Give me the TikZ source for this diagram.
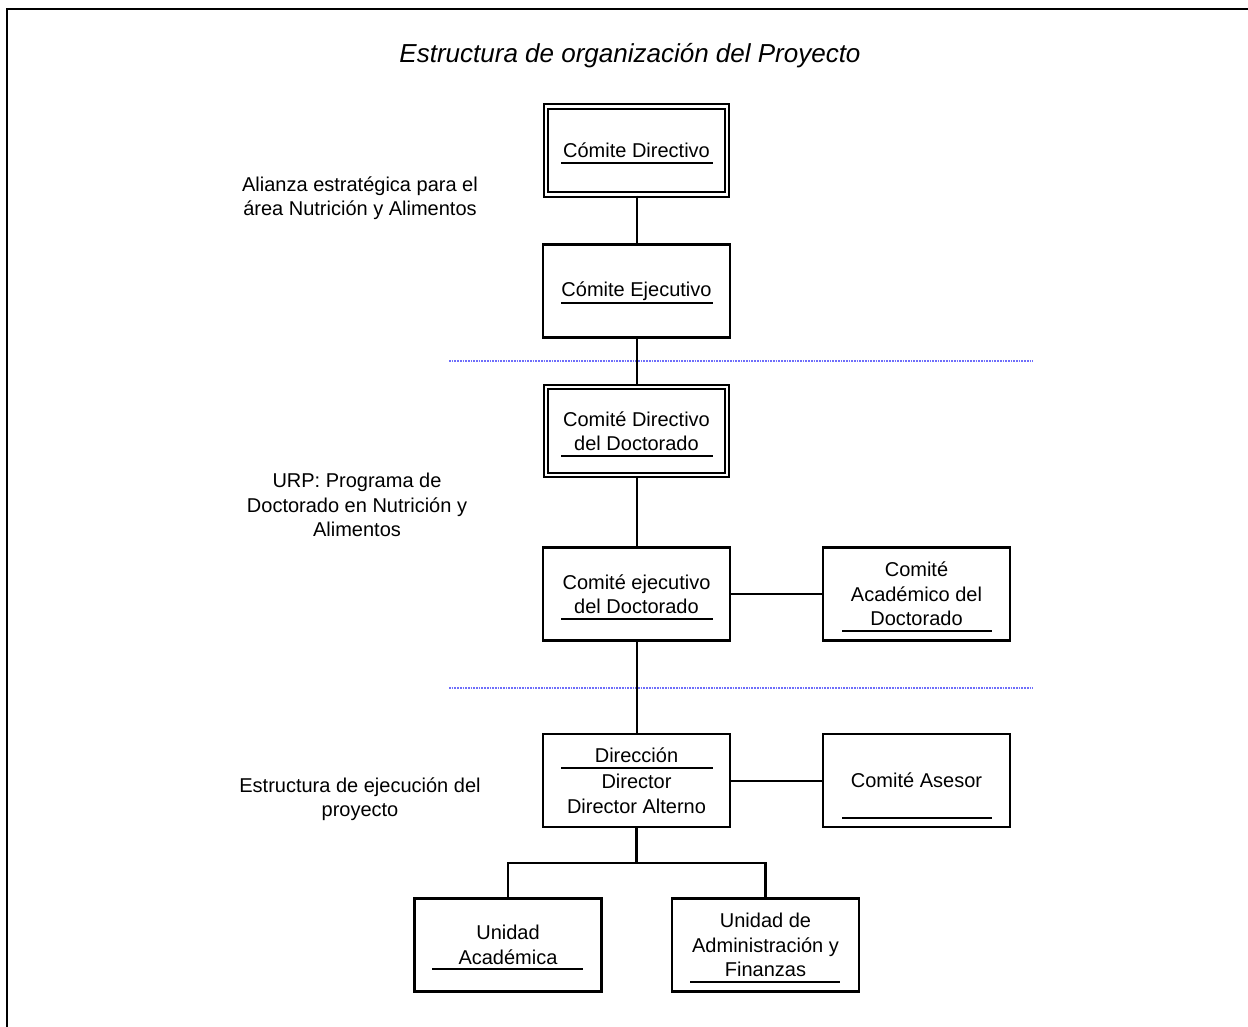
\documentclass[tikz,border=0pt]{standalone}
\usepackage{fontspec}
\setmainfont{Liberation Sans}
\definecolor{sepblue}{RGB}{110,110,250}
\tikzset{
  box/.style={draw, line width=2.2pt, minimum width=187pt, minimum height=93pt, align=center, inner sep=0pt, font=\fontsize{20}{24.5}\selectfont},
  dbox/.style={box, double, double distance=2.4pt, line width=2pt, minimum width=181pt, minimum height=88pt},
  lbl/.style={align=center, inner sep=0pt, font=\fontsize{20}{24.5}\selectfont},
  ul/.style={line width=2.2pt},
  conn/.style={line width=2pt},
  sep/.style={sepblue, line width=1.7pt, densely dotted}
}
\begin{document}
\begin{tikzpicture}[x=1pt,y=-1pt]
\useasboundingbox (0,0) rectangle (1248,1026);
% frame
\draw[line width=2.8pt] (7,1030) -- (7,9) -- (1252,9);
% title
\node[inner sep=0pt, font=\fontsize{26}{31}\selectfont\itshape] (title) at (630,56) {Estructura de organización del Proyecto};
% side labels
\node[lbl] (l1) at (360,198) {Alianza estratégica para el\\área Nutrición y Alimentos};
\node[lbl] (l2) at (357,505) {URP: Programa de\\Doctorado en Nutrición y\\Alimentos};
\node[lbl] (l3) at (360,799) {Estructura de ejecución del\\proyecto};
% separators
\draw[sep] (449,361) -- (1033,361);
\draw[sep] (449,688) -- (1033,688);
% boxes
\node[dbox] (cd) at (636.5,150.5) {Cómite Directivo};
\node[box] (ce) at (636.5,291) {Cómite Ejecutivo};
\node[dbox] (cdd) at (636.5,431) {Comité Directivo\\del Doctorado};
\node[box] (ced) at (636.5,594) {Comité ejecutivo\\del Doctorado};
\node[box] (aca) at (916.5,594) {Comité\\Académico del\\Doctorado};
\node[box] (dir) at (636.5,780.5) {Dirección\\[2pt]Director\\Director Alterno};
\node[box] (ase) at (916.5,780.5) {Comité Asesor};
\node[box] (ua) at (508,945) {Unidad\\Académica};
\node[box] (uaf) at (765.5,945) {Unidad de\\Administración y\\Finanzas};
% underlines
\draw[ul] (561,163) -- (713,163);
\draw[ul] (561,303) -- (713,303);
\draw[ul] (561,456) -- (713,456);
\draw[ul] (561,619) -- (713,619);
\draw[ul] (842,631) -- (992,631);
\draw[ul] (561,768) -- (713,768);
\draw[ul] (842,818) -- (992,818);
\draw[ul] (432,969) -- (583,969);
\draw[ul] (690,982) -- (840,982);
% connectors
\draw[conn] (cd) -- (ce);
\draw[conn] (ce) -- (cdd);
\draw[conn] (cdd) -- (ced);
\draw[conn] (ced) -- (dir);
\draw[conn] (ced) -- (aca);
\draw[conn] (dir) -- (ase);
\coordinate (br) at (636.5,863);
\draw[line width=3pt] (dir.south) -- (br);
\draw[line width=2.2pt] (ua.north) |- (br) -| (uaf.north);
\end{tikzpicture}
\end{document}
